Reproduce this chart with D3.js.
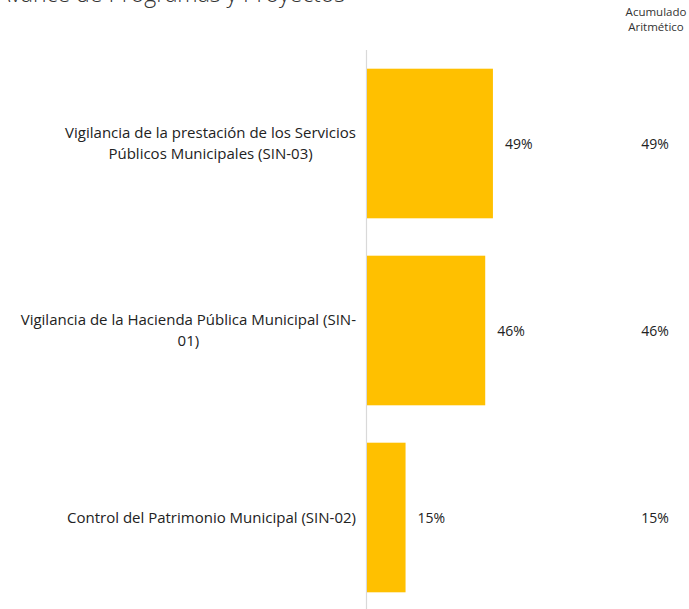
<!DOCTYPE html>
<html>
<head>
<meta charset="utf-8">
<script src="https://cdn.jsdelivr.net/npm/d3@7"></script>
<style>
  html, body { margin: 0; padding: 0; background: #fff; }
  svg { display: block; }
  text { font-family: "Open Sans", "Noto Sans", sans-serif; fill: #222; }
</style>
</head>
<body>
<svg id="chart" width="689" height="609"></svg>
<script>
const titleText = "Avance de Programas y Proyectos";
const columnHeader = ["Acumulado", "Aritmético"];
const categories = [
  ["Vigilancia de la prestación de los Servicios", "Públicos Municipales (SIN-03)"],
  ["Vigilancia de la Hacienda Pública Municipal (SIN-", "01)"],
  ["Control del Patrimonio Municipal (SIN-02)"]
];
const values = [49, 46, 15];
const accumulated = [49, 46, 15];

const svg = d3.select("#chart");
const axisX = 366.5;
const x = d3.scaleLinear().domain([0, 100]).range([axisX + 0.5, axisX + 0.5 + 257]);
const y = d3.scaleBand().domain(d3.range(values.length)).range([50, 611]).paddingInner(0.2).paddingOuter(0.1);

// title (partially cut off at top)
svg.append("text")
  .attr("x", 345).attr("y", 2)
  .attr("text-anchor", "end")
  .style("font-size", "23px").style("font-weight", 300)
  .style("fill", "#333")
  .text(titleText);

// column header (two separate lines)
svg.selectAll("text.hdr").data(columnHeader).join("text")
  .attr("class", "hdr")
  .attr("x", 656)
  .attr("y", (d, i) => 16 + i * 15)
  .attr("text-anchor", "middle")
  .style("font-size", "11.5px").style("fill", "#333")
  .text(d => d);

// axis line
svg.append("line")
  .attr("x1", axisX).attr("x2", axisX)
  .attr("y1", 50).attr("y2", 609)
  .attr("stroke", "#d9d9d9").attr("stroke-width", 1.2);

// bars
svg.selectAll("rect.bar").data(values).join("rect")
  .attr("class", "bar")
  .attr("x", x(0))
  .attr("y", (d, i) => y(i))
  .attr("width", d => x(d) - x(0))
  .attr("height", y.bandwidth())
  .attr("fill", "#FFC000");

// value labels
svg.selectAll("text.val").data(values).join("text")
  .attr("class", "val")
  .attr("x", d => x(d) + 12)
  .attr("y", (d, i) => y(i) + y.bandwidth() / 2 + 1)
  .attr("dy", "0.35em")
  .style("font-size", "14px")
  .text(d => d + "%");

// accumulated column
svg.selectAll("text.acc").data(accumulated).join("text")
  .attr("class", "acc")
  .attr("x", 655)
  .attr("y", (d, i) => y(i) + y.bandwidth() / 2 + 1)
  .attr("dy", "0.35em")
  .attr("text-anchor", "middle")
  .style("font-size", "14px")
  .text(d => d + "%");

// category labels: block right-aligned near the axis, lines centred in block
const labelRight = 356;
categories.forEach((lines, i) => {
  const cy = y(i) + y.bandwidth() / 2;
  const t = svg.append("text").attr("text-anchor", "middle").style("font-size", "15px");
  const lh = 21;
  const start = cy - (lines.length - 1) * lh / 2;
  const spans = lines.map((ln, j) => t.append("tspan")
    .attr("y", start + j * lh).attr("dy", "0.35em").text(ln));
  const maxW = d3.max(spans, s => s.node().getComputedTextLength());
  spans.forEach(s => s.attr("x", labelRight - maxW / 2));
});
</script>
</body>
</html>
